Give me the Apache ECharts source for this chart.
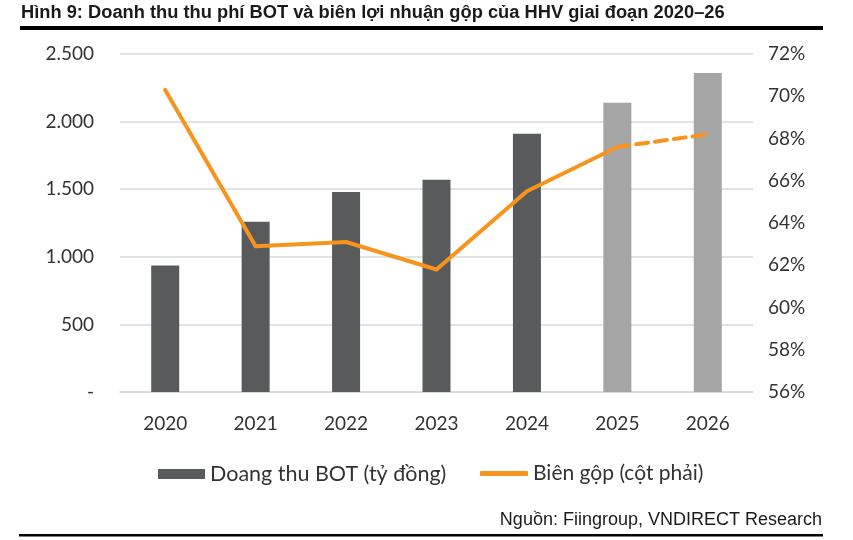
<!DOCTYPE html>
<html>
<head>
<meta charset="utf-8">
<script src="https://cdn.jsdelivr.net/npm/echarts@6/dist/echarts.min.js"></script>
<style>html,body{margin:0;padding:0;background:#fff;}#c{width:853px;height:540px;}</style>
</head>
<body>
<div id="c"></div>
<script>
var years = ['2020','2021','2022','2023','2024','2025','2026'];
var revenue = [935, 1260, 1480, 1570, 1910, 2140, 2360];
var margin = [70.3, 62.9, 63.1, 61.8, 65.5, 67.6, 68.2];
var forecastStart = 5;
var leftTicks = ['-', '500', '1.000', '1.500', '2.000', '2.500'];
var barName = 'Doang thu BOT (tỷ đồng)';
var lineName = 'Biên gộp (cột phải)';
var titleText = 'Hình 9: Doanh thu thu phí BOT và biên lợi nhuận gộp của HHV giai đoạn 2020–26';
var sourceText = 'Nguồn: Fiingroup, VNDIRECT Research';

var solid = margin.map(function(v,i){ return i <= forecastStart ? v : null; });
var dashed = margin.map(function(v,i){ return i >= forecastStart ? v : null; });
var font = 'Lato, "Open Sans", sans-serif';

var chart = echarts.init(document.getElementById('c'));
chart.setOption({
  animation: false,
  grid: {left: 120, right: 100, top: 54, bottom: 148},
  legend: [{
    left: 153, top: 458, itemWidth: 47, itemHeight: 10, itemGap: 10,
    textStyle: {fontFamily: font, fontSize: 21.5, color: '#333'},
    data: [{name: barName, icon: 'rect', itemStyle: {color: '#595a5c'}}]
  }, {
    left: 475, top: 458, itemWidth: 48, itemHeight: 5, itemGap: 4,
    textStyle: {fontFamily: font, fontSize: 21, color: '#333'},
    data: [{name: lineName, icon: 'roundRect', itemStyle: {color: '#f7941d'}}]
  }],
  xAxis: {
    type: 'category', data: years,
    axisLine: {lineStyle: {color: '#d9d9d9', width: 1.5}},
    axisTick: {show: false},
    axisLabel: {fontFamily: font, fontSize: 19, color: '#333', margin: 22}
  },
  yAxis: [{
    type: 'value', min: 0, max: 2500, interval: 500,
    axisLine: {show: false}, axisTick: {show: false},
    splitLine: {lineStyle: {color: '#d9d9d9', width: 1.5}},
    axisLabel: {fontFamily: font, fontSize: 19, color: '#333', margin: 26,
      formatter: function(v){ return leftTicks[Math.round(v/500)]; }}
  }, {
    type: 'value', min: 56, max: 72, interval: 2,
    axisLine: {show: false}, axisTick: {show: false}, splitLine: {show: false},
    axisLabel: {fontFamily: font, fontSize: 19, color: '#333', margin: 15,
      formatter: function(v){ return v + '%'; }}
  }],
  series: [{
    name: barName, type: 'bar', barWidth: 28,
    data: revenue.map(function(v,i){ return {value: v, itemStyle: {color: i >= forecastStart ? '#a5a5a5' : '#595a5c'}}; }),
    itemStyle: {color: '#595a5c'}
  }, {
    name: lineName, type: 'line', yAxisIndex: 1, data: solid, symbol: 'none',
    lineStyle: {color: '#f7941d', width: 4, cap: 'round', join: 'round'},
    itemStyle: {color: '#f7941d'}
  }, {
    name: lineName + ' ', type: 'line', yAxisIndex: 1, data: dashed, symbol: 'none',
    lineStyle: {color: '#f7941d', width: 4, type: [12, 7], cap: 'round'},
    itemStyle: {color: '#f7941d'}
  }],
  graphic: [
    {type: 'text', left: 21, top: 4, style: {text: titleText, font: 'bold 18.3px "Liberation Sans", Arial, sans-serif', fill: '#1a1a1a'}},
    {type: 'rect', shape: {x: 20, y: 26, width: 803, height: 4}, style: {fill: '#000'}},
    {type: 'text', right: 31, top: 511, style: {text: sourceText, font: '18px "Liberation Sans", Arial, sans-serif', fill: '#1a1a1a'}},
    {type: 'rect', shape: {x: 19, y: 534, width: 804, height: 2.5}, style: {fill: '#000'}}
  ]
});
</script>
</body>
</html>
